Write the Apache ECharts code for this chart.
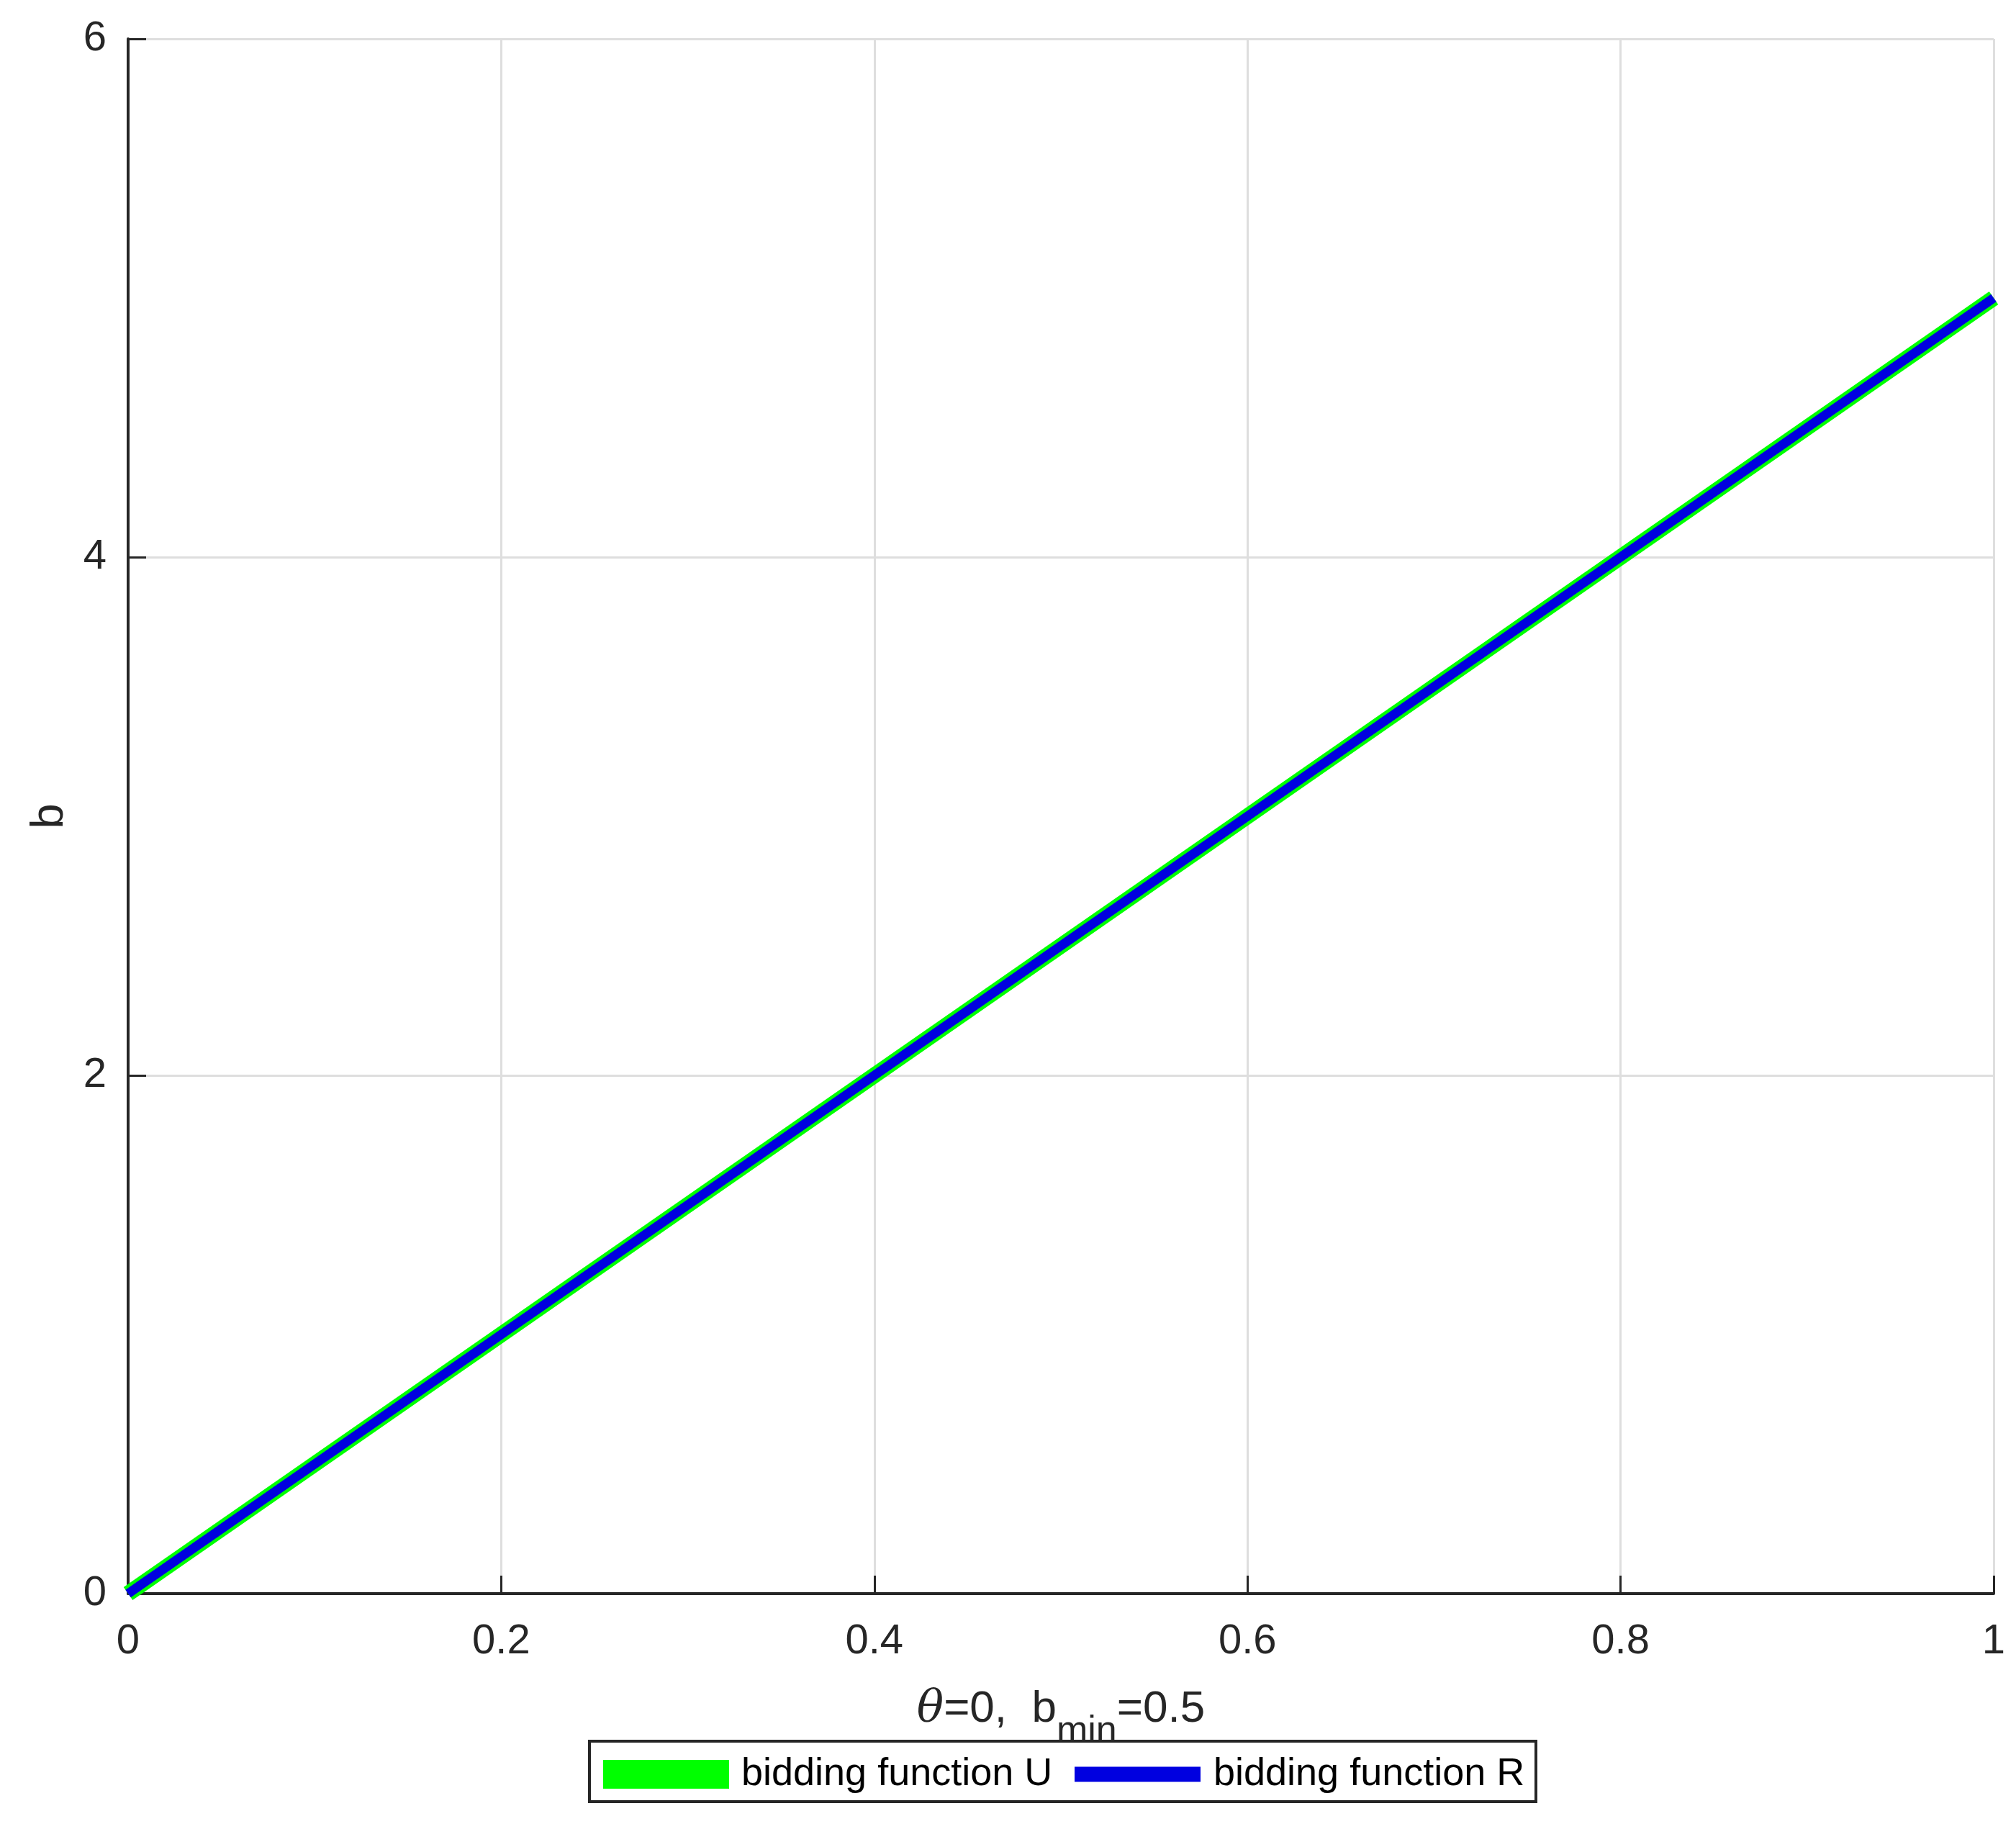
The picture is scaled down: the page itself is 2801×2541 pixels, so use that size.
<!DOCTYPE html>
<html>
<head>
<meta charset="utf-8">
<title>bidding functions</title>
<script src="https://cdn.jsdelivr.net/npm/echarts@6/dist/echarts.min.js"></script>
<style>
  html, body { margin: 0; padding: 0; background: #ffffff; }
  #chart { width: 2801px; height: 2541px; }
</style>
</head>
<body>
<div id="chart"></div>
<script>
  // values
  var thetaValues = [0, 0.1, 0.2, 0.3, 0.4, 0.5, 0.6, 0.7, 0.8, 0.9, 1];
  var bidU = [0, 0.5, 1, 1.5, 2, 2.5, 3, 3.5, 4, 4.5, 5];
  var bidR = [0, 0.5, 1, 1.5, 2, 2.5, 3, 3.5, 4, 4.5, 5];
  var seriesNames = ['bidding function U', 'bidding function R'];
  var xTicks = { min: 0, max: 1, interval: 0.2 };
  var yTicks = { min: 0, max: 6, interval: 2 };

  var axisColor = '#262626';
  var gridColor = '#dedede';
  var font = 'Liberation Sans, Arial, sans-serif';

  function pairs(xs, ys) {
    var out = [];
    for (var i = 0; i < xs.length; i++) {
      out.push([xs[i], ys[i]]);
    }
    return out;
  }

  var chart = echarts.init(document.getElementById('chart'));

  var option = {
    backgroundColor: '#ffffff',
    animation: false,
    grid: { left: 178, right: 31, top: 54, bottom: 327 },
    xAxis: {
      type: 'value',
      min: xTicks.min,
      max: xTicks.max,
      interval: xTicks.interval,
      name: '{it|θ}=0,  b{sub|min}=0.5',
      nameLocation: 'middle',
      nameGap: 104,
      nameTextStyle: {
        color: axisColor,
        fontFamily: font,
        fontSize: 62,
        rich: {
          it: { fontStyle: 'italic', fontSize: 62, color: axisColor, fontFamily: 'DejaVu Serif' },
          sub: { fontSize: 52, color: axisColor, fontFamily: font, padding: [62, 0, 0, 0] }
        }
      },
      axisLine: { onZero: false, lineStyle: { color: axisColor, width: 4 } },
      axisTick: { inside: true, length: 25, lineStyle: { color: axisColor, width: 3 } },
      axisLabel: { color: axisColor, fontFamily: font, fontSize: 58, margin: 38 },
      splitLine: { show: true, lineStyle: { color: gridColor, width: 3 } }
    },
    yAxis: {
      type: 'value',
      min: yTicks.min,
      max: yTicks.max,
      interval: yTicks.interval,
      name: 'b',
      nameLocation: 'middle',
      nameRotate: 90,
      nameGap: 77,
      nameTextStyle: { color: axisColor, fontFamily: font, fontSize: 63 },
      axisLine: { onZero: false, lineStyle: { color: axisColor, width: 4 } },
      axisTick: { inside: true, length: 25, lineStyle: { color: axisColor, width: 3 } },
      axisLabel: { color: axisColor, fontFamily: font, fontSize: 58, margin: 30 },
      splitLine: { show: true, lineStyle: { color: gridColor, width: 3 } }
    },
    legend: [
      {
        data: [seriesNames[0]],
        left: 838,
        top: 2438,
        padding: 0,
        icon: 'rect',
        itemWidth: 175,
        itemHeight: 40,
        textStyle: { color: '#000000', fontFamily: font, fontSize: 54, padding: [0, 0, 0, 12] }
      },
      {
        data: [seriesNames[1]],
        left: 1493,
        top: 2438,
        padding: 0,
        icon: 'rect',
        itemWidth: 175,
        itemHeight: 21,
        textStyle: { color: '#000000', fontFamily: font, fontSize: 54, padding: [0, 0, 0, 13] }
      }
    ],
    graphic: [
      {
        type: 'rect',
        z: -1,
        shape: { x: 819, y: 2419, width: 1315, height: 84 },
        style: { fill: '#ffffff', stroke: axisColor, lineWidth: 4 }
      }
    ],
    series: [
      {
        name: seriesNames[0],
        type: 'line',
        data: pairs(thetaValues, bidU),
        color: '#00ff00',
        showSymbol: false,
        clip: false,
        lineStyle: { width: 22, color: '#00ff00' },
        z: 3
      },
      {
        name: seriesNames[1],
        type: 'line',
        data: pairs(thetaValues, bidR),
        color: '#0000e0',
        showSymbol: false,
        clip: false,
        lineStyle: { width: 13, color: '#0000e0' },
        z: 4
      }
    ]
  };

  chart.setOption(option);
</script>
</body>
</html>
